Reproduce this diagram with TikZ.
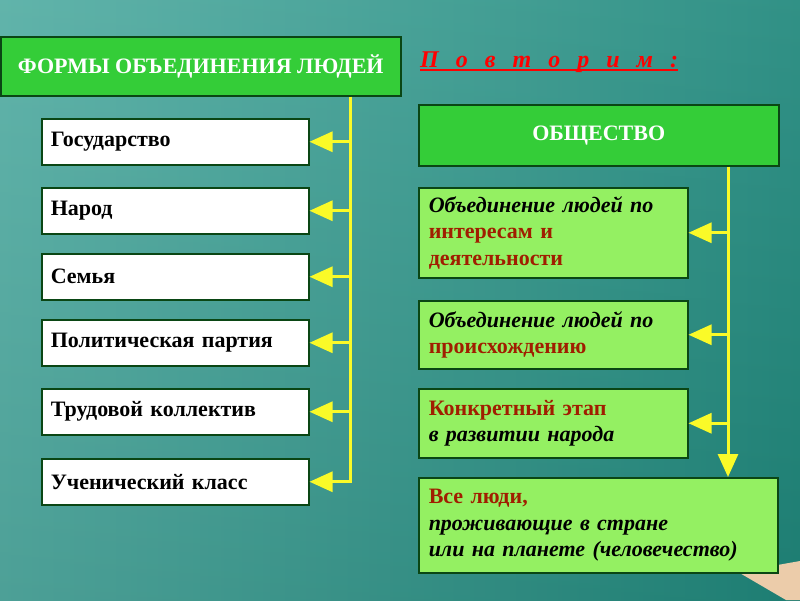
\documentclass[tikz,border=0pt]{standalone}
\usepackage{fontspec}
\setmainfont{Liberation Serif}
\usetikzlibrary{arrows.meta}

\definecolor{boardlight}{RGB}{84,174,164}
\definecolor{boarddark}{RGB}{32,136,124}
\definecolor{darkgreen}{RGB}{10,70,20}
\definecolor{headgreen}{RGB}{52,205,56}
\definecolor{palegreen}{RGB}{148,240,98}
\definecolor{railyellow}{RGB}{250,250,40}
\definecolor{termred}{RGB}{160,30,0}
\definecolor{skin}{RGB}{236,204,170}

\newcommand{\thickunder}[1]{\setbox0\hbox{#1}\rlap{\raisebox{-4pt}{\rule{\wd0}{1.8pt}}}\box0}

\begin{document}
\begin{tikzpicture}[x=1pt,y=-1pt]
    \tikzstyle{head box}=[
        draw = darkgreen,
        line width = 1.5pt,
        fill = headgreen,
        text = white,
        anchor = north west,
        font = \bfseries\fontsize{22}{26}\selectfont
    ]
    \tikzstyle{white box}=[
        draw = darkgreen,
        line width = 1.5pt,
        fill = white,
        anchor = north west,
        inner xsep = 9pt,
        text width = 249pt,
        minimum height = 46pt,
        align = left,
        font = \bfseries\fontsize{22}{26}\selectfont
    ]
    \tikzstyle{green box}=[
        draw = darkgreen,
        line width = 1.5pt,
        fill = palegreen,
        anchor = north west,
        inner xsep = 10pt,
        text width = 249pt,
        align = left,
        font = \bfseries\fontsize{22}{26.5}\selectfont
    ]
    \tikzstyle{link}=[
        draw = railyellow,
        line width = 3pt,
        -{Triangle[length=23pt,width=20pt,fill=railyellow]}
    ]

    % board
    \useasboundingbox (0,0) rectangle (800,600);
    \shade[left color=boardlight, right color=boarddark] (0,0) rectangle (800,600);
    \shade[top color=white, bottom color=black, opacity=0.08] (0,0) rectangle (800,600);
    \fill[skin] (738,572) -- (800,561) -- (800,600) -- (786,600) -- cycle;

    % left column
	\node[head box, minimum width=400pt, minimum height=59pt] (forms) at (0,36) {ФОРМЫ ОБЪЕДИНЕНИЯ ЛЮДЕЙ};
	\node[white box] (state)  at (41,118) {Государство};
	\node[white box] (nation) at (41,187) {Народ};
	\node[white box] (family) at (41,253) {Семья};
	\node[white box] (party)  at (41,319) {Политическая партия};
	\node[white box] (team)   at (41,388) {Трудовой коллектив};
	\node[white box] (class)  at (41,458) {Ученический класс};

    % right column
	\node[anchor=base west, text=red, font=\bfseries\itshape\fontsize{24}{26}\selectfont, inner sep=0pt] (repeat) at (420,67)
	    {\thickunder{\spaceskip=17pt П о в т о р и м :}};
	\node[head box, minimum width=360pt, minimum height=61pt] (society) at (418,104) {ОБЩЕСТВО};
	\node[green box, minimum height=90pt] (interest) at (418,187)
	    {\textit{Объединение людей по}\\ \textcolor{termred}{интересам и}\\ \textcolor{termred}{деятельности}};
	\node[green box, minimum height=68pt] (origin) at (418,300)
	    {\textit{Объединение людей по}\\ \textcolor{termred}{происхождению}};
	\node[green box, minimum height=69pt] (stage) at (418,388)
	    {\textcolor{termred}{Конкретный этап}\\ \textit{в развитии народа}};
	\node[green box, text width=339pt, minimum height=95pt] (mankind) at (418,477)
	    {\textcolor{termred}{Все люди,}\\ \textit{проживающие в стране}\\ \textit{или на планете (человечество)}};

    \coordinate (lx) at (350,0);
    \coordinate (rx) at (728,0);

	\draw[link] (forms.south -| lx) |- (class.east);
	\draw[link] (state.east -| lx)  -- (state.east);
	\draw[link] (nation.east -| lx) -- (nation.east);
	\draw[link] (family.east -| lx) -- (family.east);
	\draw[link] (party.east -| lx)  -- (party.east);
	\draw[link] (team.east -| lx)   -- (team.east);

	\draw[link] (society.south -| rx) -- (mankind.north -| rx);
	\draw[link] (interest.east -| rx) -- (interest.east);
	\draw[link] (origin.east -| rx)   -- (origin.east);
	\draw[link] (stage.east -| rx)    -- (stage.east);

\end{tikzpicture}
\end{document}
